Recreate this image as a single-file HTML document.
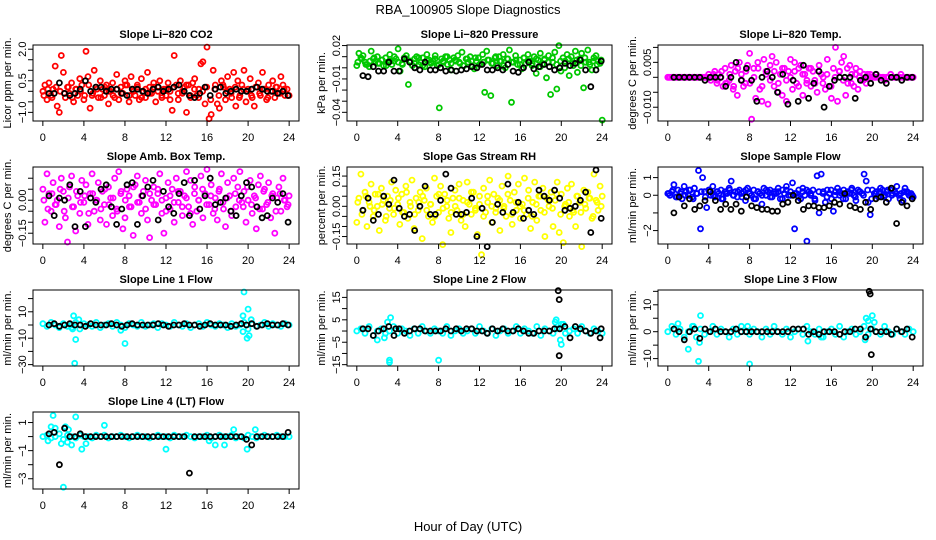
<!DOCTYPE html>
<html><head><meta charset="utf-8"><title>RBA_100905 Slope Diagnostics</title>
<style>html,body{margin:0;padding:0;background:#fff}svg{display:block;font-family:"Liberation Sans",Arial,sans-serif}</style>
</head><body>
<svg id="chart" width="936" height="540" viewBox="0 0 936 540" xmlns="http://www.w3.org/2000/svg">
<text x="468" y="14" text-anchor="middle" font-size="13">RBA_100905  Slope Diagnostics</text>
<text x="468" y="531" text-anchor="middle" font-size="13">Hour of Day (UTC)</text>
</svg>
<script>
// ---- data (hours on x; colored = all slopes, black = selected slopes) ----
const co2Vals=[0.0,0.3,-0.4,0.4,-0.2,0.1,1.2,-0.7,-1.0,1.7,0.9,-0.3,0.2,-0.1,0.4,-0.5,0.1,-0.2,0.6,0.3,-0.4,1.9,0.7,-0.8,-0.2,1.0,0.2,-0.3,0.5,0.1,-0.2,0.3,-0.6,0.0,0.4,-0.3,0.8,-0.4,0.2,-0.1,0.5,0.3,-0.5,0.7,0.1,-0.2,0.3,-0.4,0.6,0.0,-0.3,0.9,0.2,-0.1,0.4,-0.5,0.2,0.5,-0.3,0.1,-0.2,0.4,0.0,-0.9,1.7,0.3,-0.4,0.5,-0.1,0.2,-1.0,0.3,-0.3,0.4,0.6,-0.2,0.1,1.3,1.4,-0.6,2.1,-1.3,-1.1,1.0,0.3,-0.6,-0.8,0.5,0.2,-0.4,0.7,0.1,-0.3,0.9,-0.7,0.5,-0.2,0.3,1.0,-0.5,0.1,0.6,-0.3,-0.7,0.2,0.4,-0.2,0.9,0.1,-0.4,0.3,0.0,0.5,-0.3,0.2,-0.1,0.7,0.3,-0.2,0.1,-0.2];
const co2Core=[-0.2,0.1,-0.3,0.2,0.0,-0.1,0.2,-0.3,0.1,0.0,-0.2,0.3,-0.1,0.1,-0.3,0.2,0.0,-0.2,0.1,-0.1,0.3,-0.2,0.0,0.2,-0.3,0.1,-0.1,0.2,0.0,-0.2,0.1,-0.4,0.2,-0.1,0.0,0.3,-0.2,0.1,-0.3,0.0,0.2,-0.4,0.1,-0.2,0.3,0.0,-0.1,0.2,-0.3,0.1,0.0,-0.2,0.2,-0.1,0.1,-0.3,0.0,0.2,-0.1,0.1,-0.2];
const co2Black=[-0.1,-0.1,0.4,-0.1,-0.2,-0.1,0.1,0.5,0.0,0.2,0.2,0.0,0.1,0.1,-0.1,-0.2,0.1,0.1,0.0,-0.1,0.1,0.2,0.0,0.1,0.2,0.3,0.0,-0.2,-0.3,-0.1,0.2,-0.2,0.1,0.2,-0.1,0.0,0.1,0.0,0.0,0.1,0.2,0.1,0.0,0.0,-0.1,0.0,-0.2];
const presVals=[2,13,9,11,5,3,1,15,8,6,10,4,7,2,9,5,12,3,6,8,17,-3,4,9,11,-15,6,2,8,10,3,5,9,1,12,7,4,6,11,2,-36,8,5,10,3,7,-2,9,6,11,4,14,2,8,5,10,1,-1,6,9,3,12,-22,15,7,-25,4,9,2,10,6,12,0,8,16,-31,5,11,3,7,-1,9,4,12,6,2,10,-5,7,13,3,8,-9,11,-24,5,14,-19,20,-3,9,6,12,-7,10,2,15,-4,8,13,-18,5,16,3,-2,9,11,6,4,-47];
const presCore=[5,8,3,6,9,4,7,2,6,10,5,3,8,6,4,9,2,7,5,8,3,6,10,4,7,5,2,8,6,9,3,5,7,4,10,6,2,8,5,7,3,9,6,4,8,1,7,5,9,3,6,0,8,4,7,2,9,5,6,3,7];
const presBlack=[-7,-8,1,-3,-3,5,-3,-3,8,5,0,-2,5,-2,-2,0,-3,-2,-3,-2,-1,1,0,3,-2,-2,0,-2,3,-3,-4,0,5,-1,1,3,1,-2,0,4,2,4,7,-2,-17,-2,6];
const tempVals=[0,0,0,0,0,0,0,0,0,0,0,0,0,0,0,0,0,0,0,0,1,-1,0,2,-2,1,0,-3,3,-2,-1,4,-4,2,-6,5,1,-3,-2,4,8,-14,3,-7,5,-4,-8,6,2,-9,4,7,-3,5,-5,1,-6,3,-8,2,6,-4,5,-2,3,4,-6,1,-1,3,-3,2,-2,-5,4,1,0,-4,6,-3,-7,3,10,-8,2,5,7,-6,-2,4,1,-3,3,-4,2,-1,1,-2,0,1,0,0,1,0,0,0,-1,0,0,1,0,0,0,0,1,0,0,0,0,0,0];
const tempCore=[0,0,0,0,0,0,0,0,0,0,0,1,-1,2,-2,1,-3,3,-1,2,-2,0,3,-3,1,-1,2,-2,3,-1,0,2,-3,1,-2,3,-1,2,-2,1,-3,0,2,-1,3,-2,1,0,-1,1,0,0,0,0,0,0,0,0,0,0,0];
const tempBlack=[0,0,0,0,0,0,-1,0,0,0,-3,0,5,-1,3,-1,-8,0,2,0,-5,1,-9,-1,-8,4,-7,-2,2,-10,-3,-1,0,0,0,-7,-1,0,-2,1,-1,-2,0,0,-1,0,0];
const ambVals=[5,-10,12,3,-5,8,-2,0,-12,10,4,-8,-19,6,11,-3,-14,2,-6,9,-1,7,-11,3,12,-5,0,8,-9,4,-2,-11,6,1,-7,10,-4,13,3,-13,-8,5,2,-3,-16,7,11,-1,-6,4,9,-9,-17,0,6,-2,3,12,-6,-15,1,8,-4,5,-10,10,-1,4,-7,2,13,-3,9,-11,6,-5,0,11,-8,3,14,-2,7,-6,1,-9,5,12,-4,-12,8,2,-7,10,-3,6,13,-1,4,-10,0,9,-6,2,-13,7,11,-4,5,-2,8,-8,3,-15,1,6,-5,10,0,-3,2];
const ambCore=[0,-4,3,-2,5,-5,1,-3,4,-1,2,-6,3,0,-4,5,-2,1,-5,4,0,-3,6,-1,2,-4,3,-2,5,0,-5,2,-1,4,-3,1,-6,3,0,5,-2,2,-4,4,-1,1,-5,3,0,-3,6,-2,1,-4,4,-1,2,-5,3,0,-2];
const ambBlack=[2,-7,1,0,7,-12,4,-12,1,-1,5,7,-3,-11,-4,7,8,-11,2,6,9,-9,4,-3,-6,3,8,-7,9,-4,2,10,-2,-1,1,-5,-7,2,8,6,-3,-8,-7,1,-1,3,-10];
const rhVals=[-8,4,16,-2,7,-10,2,11,-5,6,0,-12,9,3,-7,5,-1,12,-4,8,1,-9,6,-3,10,-6,2,13,-11,4,-2,7,-16,3,9,-5,1,-8,14,5,-3,10,-19,6,0,-6,-13,4,8,-2,11,-7,3,-10,12,1,-4,7,-1,-14,5,-24,9,-3,2,13,-8,6,-1,4,-12,10,0,-5,15,3,-9,7,-2,11,-6,1,14,-4,8,-11,2,12,-7,5,-2,9,-15,4,0,7,-10,3,12,-13,6,-18,1,9,-5,11,-3,-10,5,2,-20,8,-1,7,4,-6,16,3,-2,10,5];
const rhCore=[2,-4,5,0,-2,6,1,-5,3,-1,4,-3,7,0,-4,2,5,-2,1,-5,6,-1,3,-3,0,4,-4,2,7,-2,1,-5,5,0,-3,3,-1,6,-4,2,0,-2,4,-5,1,5,-3,3,-1,6,-4,0,2,-2,5,-3,1,4,-5,2,0];
const rhBlack=[-2,4,-7,-4,5,1,13,-1,-5,-4,-12,0,10,-4,-4,3,16,9,-4,-4,-3,4,-15,-1,-20,-8,1,-3,11,-3,2,-6,-2,-4,8,5,3,8,4,-2,-1,0,3,7,-13,18,-6];
const flowVals=[0.1,0.0,0.2,0.6,-0.1,0.3,0.1,-0.2,0.5,0.2,0.0,0.3,-0.1,0.4,0.1,1.4,-1.9,1.0,0.2,-0.7,0.3,0.0,0.5,-0.1,0.2,0.1,0.3,-0.2,0.2,0.1,0.4,0.8,0.0,0.2,-0.1,0.3,0.1,0.2,-0.3,0.4,0.1,0.0,0.3,-0.2,0.2,0.1,-0.5,0.4,0.0,0.2,0.3,-0.1,0.2,0.1,0.4,-0.2,0.3,0.1,0.5,0.0,0.2,0.7,-1.9,0.1,0.3,-0.2,0.4,0.0,-2.6,0.2,0.1,0.3,-0.3,1.1,-1.0,1.2,0.2,-0.4,0.3,0.1,-0.2,-0.9,0.2,0.4,0.0,0.1,0.3,-0.2,0.2,0.1,0.4,0.0,-0.3,0.3,0.2,0.1,1.2,0.8,-0.4,-1.1,0.3,0.1,0.2,-0.1,0.4,0.3,0.0,0.2,-0.2,0.3,0.1,0.2,0.5,0.0,0.1,-0.3,0.4,0.2,0.0,0.1,-0.1];
const flowCore=[0.1,0.3,-0.1,0.2,0.0,0.3,-0.2,0.1,0.2,-0.1,0.3,0.0,0.2,-0.2,0.1,0.3,0.0,0.2,-0.1,0.3,0.1,-0.2,0.2,0.0,0.3,-0.1,0.1,0.2,-0.2,0.3,0.0,0.1,-0.1,0.2,0.3,0.0,-0.2,0.2,0.1,-0.1,0.3,0.0,0.2,-0.2,0.1,0.3,-0.1,0.2,0.0,0.3,-0.2,0.1,0.2,-0.1,0.3,0.0,0.1,-0.2,0.2,0.1,0.0];
const flowBlack=[-1.0,-0.1,-0.6,-0.2,-0.8,-0.6,-0.3,0.2,-0.3,-0.8,-0.5,-0.8,-0.5,-0.9,-0.1,-0.6,-0.7,-0.8,-0.8,-0.9,-0.9,-0.5,-0.4,0.0,-0.3,-0.8,-0.6,-0.6,-0.7,-0.7,-0.6,-0.4,-0.5,0.1,-0.6,-0.7,-0.8,-0.4,-0.8,-0.2,-0.1,-0.4,0.4,-1.6,-0.4,-0.6,-0.2];
const line1Vals=[1,-1,2,0,-2,1,-1,0,2,-3,1,0,-1,2,-2,0,1,-1,2,0,-2,1,0,-1,2,-1,0,1,-2,1,0,-1,2,0,-1,1,-2,0,1,-1,2,0,-1,1,0,-2,1,-1,0,2,-3,1,-1,0,2,-1,1,0,-1,1,0];
const line1ExtraHours=[2.9,3.0,3.1,3.2,3.5,7.6,8.0,19.5,19.5,19.6,19.9,20.0,20.1,20.3,2.8];
const line1ExtraVals=[-3,7,-29,-11,4,-4,-14,7,-5,25,-10,12,-8,4,-2];
const line1Black=[0,1,-1,0,1,0,0,-1,1,0,0,0,1,0,-1,0,1,0,0,0,0,1,0,-1,0,0,1,0,0,-1,0,1,0,0,0,-1,0,1,0,1,-1,0,1,0,0,1,0];
const line2Vals=[0,1,-1,2,-2,0,1,-1,0,2,-1,1,0,-2,1,-1,2,0,-1,1,0,-1,2,-2,0,1,-1,0,1,-1,2,0,-1,1,-2,0,1,-1,0,2,-1,1,0,-1,2,-2,1,0,-1,1,3,-1,0,1,-1,2,0,-1,1,0,-1];
const line2ExtraHours=[2.0,2.7,3.0,3.2,3.2,3.3,8.0,19.4,19.5,19.9,20.0,20.2];
const line2ExtraVals=[-4,-3,4,-14,-13,6,-13,4,5,-4,-6,3];
const line2Black=[1,1,-2,0,1,2,-2,1,-1,0,1,1,0,0,0,0,1,0,1,0,1,1,0,0,-1,1,0,1,0,0,1,0,-1,-1,0,0,0,1,1,2,-3,2,1,0,-1,0,1];
const line2BlackExtraHours=[19.7,19.8,19.8,3.8,23.8];
const line2BlackExtraVals=[18,14,-11,1,-3];
const line3Vals=[0,2,-1,1,-2,0,2,-2,1,-1,0,2,-1,1,0,-2,1,-1,2,0,-1,1,0,-2,1,-1,2,0,-1,1,-2,0,1,-1,2,0,-1,1,-2,0,1,-1,2,-2,0,1,-1,0,2,-1,1,0,-1,2,0,-1,1,0,-1,1,0];
const line3ExtraHours=[1.0,2.0,2.5,3.0,3.1,3.2,7.8,8.0,13.7,15.0,19.3,19.4,19.6,20.0,20.2];
const line3ExtraVals=[3,-6.5,2,-11,-4,6,2,-12,-3.5,-2,-3,5,4,6,3.5];
const line3Black=[1,0,-3,0,1,-2.5,1,0,1,0,0,0,1,0,0,0,0,0,0,0,0,0,0,1,1,1,-1,0,-1,0,0,0,-1,0,0,1,1,-2,1,0,0,0,-1,1,0,1,-2];
const line3BlackExtraHours=[19.7,19.8,19.9];
const line3BlackExtraVals=[15,14,-8.5];
const line4Vals=[0,0.1,-0.1,0,0.2,-0.2,0.1,0,-0.1,0.1,0,0,-0.1,0.1,0,0.1,-0.1,0,0,0.1,0,-0.1,0,0.1,0,0,-0.1,0,0.1,0,0,-0.1,0.1,0,0,0.1,0,-0.1,0,0,0.1,-0.1,0,0.1,0,0,0.1,-0.1,0,-0.1,0.1,0,-0.1,0,0.1,0,0,0.1,0,0,0];
const line4ExtraHours=[0.5,0.8,1.0,1.8,2.0,2.2,2.5,2.8,3.2,3.8,4.2,6.0,12.0,16.2,16.8,17.7,18.6,19.9,20.7,2.4,1.2];
const line4ExtraVals=[-0.3,0.7,1.5,-0.5,-3.6,0.7,0.5,-0.6,1.4,-0.9,-0.5,0.8,-0.9,-0.3,-0.6,-0.6,0.5,-0.9,0.5,-0.4,0.6];
const line4Black=[0.2,0.3,-2.0,0.6,0,0,0.2,0,0,0,0,0,0,0,0,0,0,0,0,0,0,0,0,0,0,0,0,-2.6,0,0,0,0,0,0,0,0,0,0,-0.2,-0.6,0,0,0,0,0,0,0.3];
const xTicks=[0,4,8,12,16,20,24];
const xTickLabels=["0","4","8","12","16","20","24"];

// ---- layout ----
const NS="http://www.w3.org/2000/svg";
const svg=document.getElementById('chart');
const cols=[[33,299],[347,612],[658,923]];
const rows=[[45,121],[167,244],[290,366],[412,489]];
function mk(tag,attrs,parent){const e=document.createElementNS(NS,tag);for(const k in attrs)e.setAttribute(k,attrs[k]);(parent||svg).appendChild(e);return e;}

const panels=[
 {name:'co2',title:'Slope Li\u2212820 CO2',ylab:'Licor ppm per min.',col:'#ff0000',dom:[-1.41,2.2],ticks:[2,1.5,1,0.5,0,-0.5,-1],lab:[[2,'2.0'],[0.5,'0.5'],[-1,'\u22121.0']],v:co2Vals,core:co2Core,b:co2Black},
 {name:'pressure',title:'Slope Li\u2212820 Pressure',ylab:'kPa per min.',col:'#00c800',dom:[-47.8,20.5],ticks:[20,10,0,-10,-20,-30,-40],lab:[[20,'0.02'],[-10,'\u22120.01'],[-40,'\u22120.04']],v:presVals,core:presCore,b:presBlack},
 {name:'temp',title:'Slope Li\u2212820 Temp.',ylab:'degrees C per min.',col:'#ff00ff',dom:[-14.6,10.8],ticks:[10,5,0,-5,-10],lab:[[5,'0.005'],[-10,'\u22120.010']],v:tempVals,core:tempCore,b:tempBlack},
 {name:'amb-box-temp',title:'Slope Amb. Box Temp.',ylab:'degrees C per min.',col:'#ff00ff',dom:[-19.9,15.1],ticks:[10,5,0,-5,-10,-15],lab:[[0,'0.00'],[-15,'\u22120.15']],v:ambVals,core:ambCore,b:ambBlack},
 {name:'gas-stream-rh',title:'Slope Gas Stream RH',ylab:'percent per min.',col:'#ffff00',dom:[-18.7,19.5],ticks:[15,10,5,0,-5,-10,-15],lab:[[15,'0.15'],[0,'0.00'],[-15,'\u22120.15']],v:rhVals,core:rhCore,b:rhBlack},
 {name:'sample-flow',title:'Slope Sample Flow',ylab:'ml/min per min.',col:'#0000ff',dom:[-2.76,1.6],ticks:[1,0,-1,-2],lab:[[1,'1'],[0,'0'],[-2,'\u22122']],v:flowVals,core:flowCore,b:flowBlack},
 {name:'line1-flow',title:'Slope Line 1 Flow',ylab:'ml/min per min.',col:'#00ffff',dom:[-31.05,26.5],ticks:[20,10,0,-10,-20,-30],lab:[[10,'10'],[-10,'\u221210'],[-30,'\u221230']],v:line1Vals,ex:line1ExtraHours,ey:line1ExtraVals,b:line1Black},
 {name:'line2-flow',title:'Slope Line 2 Flow',ylab:'ml/min per min.',col:'#00ffff',dom:[-15.6,18.3],ticks:[15,10,5,0,-5,-10,-15],lab:[[15,'15'],[5,'5'],[-5,'\u22125'],[-15,'\u221215']],v:line2Vals,ex:line2ExtraHours,ey:line2ExtraVals,b:line2Black,bx:line2BlackExtraHours,by:line2BlackExtraVals},
 {name:'line3-flow',title:'Slope Line 3 Flow',ylab:'ml/min per min.',col:'#00ffff',dom:[-12.75,15.5],ticks:[15,10,5,0,-5,-10],lab:[[10,'10'],[0,'0'],[-10,'\u221210']],v:line3Vals,ex:line3ExtraHours,ey:line3ExtraVals,b:line3Black,bx:line3BlackExtraHours,by:line3BlackExtraVals},
 {name:'line4-flow',title:'Slope Line 4 (LT) Flow',ylab:'ml/min per min.',col:'#00ffff',dom:[-3.73,1.75],ticks:[1,0,-1,-2,-3],lab:[[1,'1'],[-1,'\u22121'],[-3,'\u22123']],v:line4Vals,ex:line4ExtraHours,ey:line4ExtraVals,b:line4Black}
];

panels.forEach((p,i)=>{
  const [x0,x1]=cols[i%3],[y0,y1]=rows[Math.floor(i/3)];
  const g=mk('g',{});
  
  
  const xs=h=>x0+(h+0.96)/25.92*(x1-x0);
  const ys=v=>y1-(v-p.dom[0])/(p.dom[1]-p.dom[0])*(y1-y0);
  const t=mk('text',{x:(x0+x1)/2,y:y0-7,'text-anchor':'middle','font-size':'11','font-weight':'bold'},g);
  t.textContent=p.title;
  
  
  const yl=mk('text',{transform:`translate(${x0-22},${(y0+y1)/2}) rotate(-90)`,'text-anchor':'middle','font-size':'11'},g);
  yl.textContent=p.ylab;
  
  
  const pts=mk('g',{fill:'none','stroke-width':'1.8'},g);
  
  
  const n=p.v.length;
  p.v.forEach((v,k)=>{
    const c=mk('circle',{cx:xs(k*24/(n-1)).toFixed(1),cy:ys(v).toFixed(1),r:2.5,stroke:p.col},pts);
    
    
  });
  if(p.core){const nc=p.core.length;p.core.forEach((v,k)=>{
    const c=mk('circle',{cx:xs(0.1+k*23.8/(nc-1)).toFixed(1),cy:ys(v).toFixed(1),r:2.5,stroke:p.col},pts);
    
    
  });}
  if(p.ex)p.ex.forEach((h,k)=>{
    const c=mk('circle',{cx:xs(h).toFixed(1),cy:ys(p.ey[k]).toFixed(1),r:2.5,stroke:p.col},pts);
    
    
  });
  const nb=p.b.length;
  p.b.forEach((v,k)=>{
    const c=mk('circle',{cx:xs(0.6+k*23.3/(nb-1)).toFixed(1),cy:ys(v).toFixed(1),r:2.5,stroke:'#000'},pts);
    
    
  });
  if(p.bx)p.bx.forEach((h,k)=>{
    const c=mk('circle',{cx:xs(h).toFixed(1),cy:ys(p.by[k]).toFixed(1),r:2.5,stroke:'#000'},pts);
    
    
  });
  const box=mk('rect',{x:x0,y:y0,width:x1-x0,height:y1-y0,fill:'none',stroke:'#000','stroke-width':'1'},g);
  
  
  const xa=mk('g',{stroke:'#000','stroke-width':'1'},g);
  
  
  mk('line',{x1:xs(xTicks[0]),x2:xs(xTicks[xTicks.length-1]),y1:y1,y2:y1},xa);
  xTicks.forEach((h,k)=>{
    mk('line',{x1:xs(h),x2:xs(h),y1:y1,y2:y1+5},xa);
    const tl=mk('text',{x:xs(h),y:y1+20,'text-anchor':'middle','font-size':'11',stroke:'none'},xa);
    tl.textContent=xTickLabels[k];
    
    
  });
  const ya=mk('g',{stroke:'#000','stroke-width':'1'},g);
  
  
  mk('line',{x1:x0,x2:x0,y1:ys(p.ticks[0]),y2:ys(p.ticks[p.ticks.length-1])},ya);
  p.ticks.forEach(v=>mk('line',{x1:x0-5,x2:x0,y1:ys(v),y2:ys(v)},ya));
  p.lab.forEach(([v,s])=>{
    const tl=mk('text',{transform:`translate(${x0-7},${ys(v)}) rotate(-90)`,'text-anchor':'middle','font-size':'11',stroke:'none'},ya);
    tl.textContent=s;
    
    
  });
});
</script>
</body></html>
